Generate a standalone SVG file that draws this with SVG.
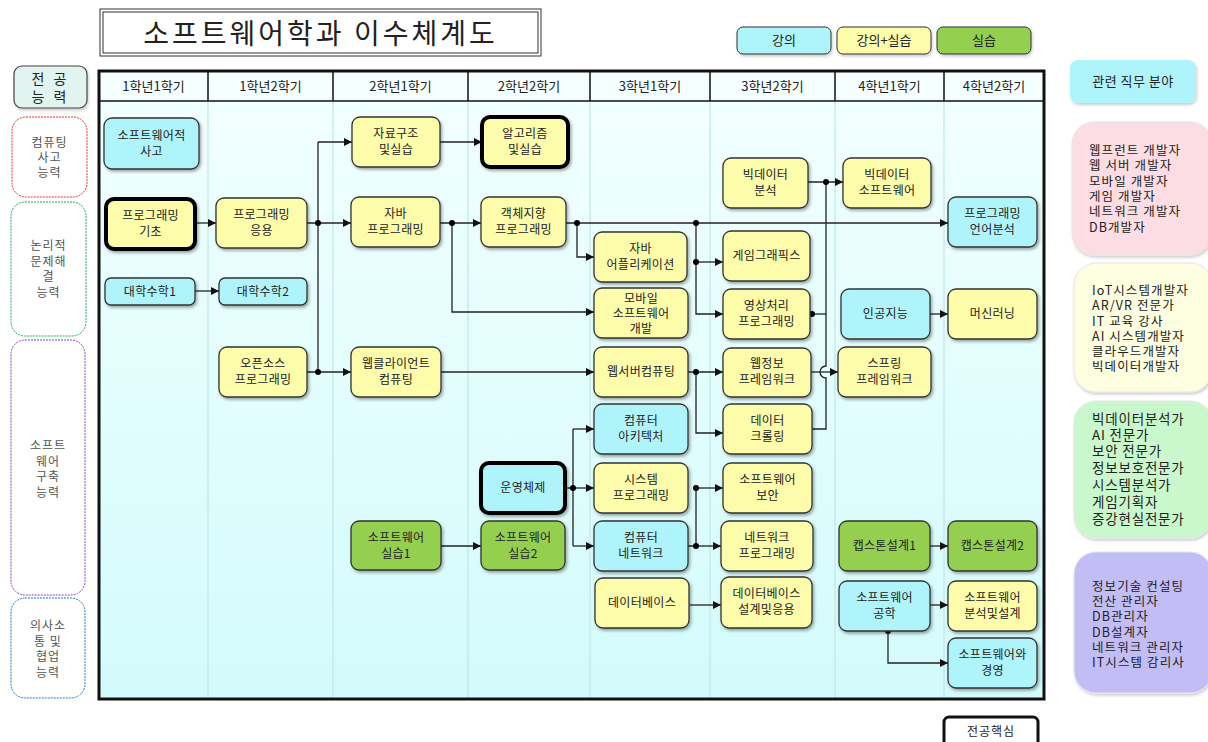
<svg xmlns="http://www.w3.org/2000/svg" width="1208" height="742" viewBox="0 0 1208 742">
<defs>
<linearGradient id="body" x1="0" y1="0" x2="0" y2="1">
<stop offset="0" stop-color="#f3ffff"/>
<stop offset="1" stop-color="#d3fbfb"/>
</linearGradient>
<filter id="sh" x="-10%" y="-10%" width="130%" height="140%">
<feDropShadow dx="1.5" dy="2" stdDeviation="1.4" flood-color="#000" flood-opacity="0.35"/>
</filter>
<filter id="sh2" x="-10%" y="-10%" width="130%" height="130%">
<feDropShadow dx="1" dy="2" stdDeviation="1.5" flood-color="#000" flood-opacity="0.2"/>
</filter>
<marker id="ar" viewBox="0 0 10 10" refX="10" refY="5" markerWidth="9" markerHeight="8" markerUnits="userSpaceOnUse" orient="auto">
<path d="M0,0 L10,5 L0,10 z" fill="#111"/>
</marker>
</defs>
<style>
text{font-family:"Noto Sans CJK KR","Noto Sans",sans-serif;fill:#222;}
.nt{font-size:12px;text-anchor:middle;letter-spacing:0.3px;}
.hd{font-size:13px;text-anchor:middle;}
.lb{font-size:12px;text-anchor:middle;fill:#555;letter-spacing:1px;}
.job{font-size:12.5px;letter-spacing:1.1px;}
.jobg{font-size:13.5px;letter-spacing:0.8px;}
.n{stroke:#333;stroke-width:1.3;filter:url(#sh);}
.c{fill:#b0f4fb;}
.y{fill:#fdfcab;}
.g{fill:#94cf50;}
.core{stroke:#000;stroke-width:4;}
.cn{fill:none;stroke:#222;stroke-width:1.3;}
.ar{marker-end:url(#ar);}
.dot{fill:#000;}
.vd{stroke:#bfe6ea;stroke-width:1.2;}
.hdv{stroke:#111;stroke-width:1.5;}
</style>

<!-- title -->
<g id="title">
<rect x="100" y="9" width="441" height="47" fill="#fff" stroke="#333" stroke-width="1"/>
<rect x="103" y="12" width="435" height="41" fill="#fff" stroke="#333" stroke-width="1"/>
<text x="320.5" y="44" style="font-size:28px;text-anchor:middle;letter-spacing:3px;">소프트웨어학과 이수체계도</text>
</g>

<!-- legend -->
<g id="legend">
<rect x="737" y="27" width="94" height="27" rx="6" class="c" stroke="#333" stroke-width="1" filter="url(#sh2)"/>
<text x="784" y="45" class="hd">강의</text>
<rect x="837" y="27" width="94" height="27" rx="6" class="y" stroke="#333" stroke-width="1" filter="url(#sh2)"/>
<text x="884" y="45" class="hd">강의+실습</text>
<rect x="937" y="27" width="94" height="27" rx="6" class="g" stroke="#333" stroke-width="1" filter="url(#sh2)"/>
<text x="984" y="45" class="hd">실습</text>
</g>

<!-- capability column -->
<g id="cap-head">
<rect x="14" y="66" width="73" height="42" rx="8" fill="#e2f4f0" stroke="#444" stroke-width="1.2" filter="url(#sh2)"/>
<text x="50.5" y="84" style="font-size:14px;text-anchor:middle;letter-spacing:3px;">전 공</text>
<text x="50.5" y="102" style="font-size:14px;text-anchor:middle;letter-spacing:3px;">능 력</text>
</g>
<g id="cap1">
<rect x="12" y="117" width="75" height="80" rx="14" fill="#fff" stroke="#e33" stroke-width="1" stroke-dasharray="2 1"/>
<text x="49.5" y="147" class="lb">컴퓨팅</text>
<text x="49.5" y="162" class="lb">사고</text>
<text x="49.5" y="177" class="lb">능력</text>
</g>
<g id="cap2">
<rect x="11" y="202" width="75" height="134" rx="14" fill="#fff" stroke="#2a6" stroke-width="1" stroke-dasharray="2 1"/>
<text x="48.5" y="250" class="lb">논리적</text>
<text x="48.5" y="266" class="lb">문제해</text>
<text x="48.5" y="281" class="lb">결</text>
<text x="48.5" y="297" class="lb">능력</text>
</g>
<g id="cap3">
<rect x="11" y="340" width="74" height="255" rx="14" fill="#fff" stroke="#84c" stroke-width="1" stroke-dasharray="2 1"/>
<text x="48" y="450" class="lb">소프트</text>
<text x="48" y="466" class="lb">웨어</text>
<text x="48" y="481" class="lb">구축</text>
<text x="48" y="497" class="lb">능력</text>
</g>
<g id="cap4">
<rect x="11" y="598" width="74" height="100" rx="14" fill="#fff" stroke="#27c" stroke-width="1" stroke-dasharray="2 1"/>
<text x="48" y="630" class="lb">의사소</text>
<text x="48" y="646" class="lb">통 및</text>
<text x="48" y="661" class="lb">협업</text>
<text x="48" y="677" class="lb">능력</text>
</g>

<!-- table -->
<g id="table">
<rect x="99" y="71" width="945" height="628" fill="url(#body)"/>
<rect x="99" y="71" width="945" height="30" fill="#f6ffff"/>
<line x1="99" y1="101" x2="1044" y2="101" class="hdv"/>
<g class="vd">
<line x1="208" y1="102" x2="208" y2="698"/>
<line x1="333" y1="102" x2="333" y2="698"/>
<line x1="468" y1="102" x2="468" y2="698"/>
<line x1="590" y1="102" x2="590" y2="698"/>
<line x1="710" y1="102" x2="710" y2="698"/>
<line x1="835" y1="102" x2="835" y2="698"/>
<line x1="944" y1="102" x2="944" y2="698"/>
</g>
<g class="hdv">
<line x1="208" y1="71" x2="208" y2="101"/>
<line x1="333" y1="71" x2="333" y2="101"/>
<line x1="468" y1="71" x2="468" y2="101"/>
<line x1="590" y1="71" x2="590" y2="101"/>
<line x1="710" y1="71" x2="710" y2="101"/>
<line x1="835" y1="71" x2="835" y2="101"/>
<line x1="944" y1="71" x2="944" y2="101"/>
</g>
<rect x="99" y="71" width="945" height="628" fill="none" stroke="#111" stroke-width="3"/>
<text x="153.5" y="91" class="hd">1학년1학기</text>
<text x="270.5" y="91" class="hd">1학년2학기</text>
<text x="400.5" y="91" class="hd">2학년1학기</text>
<text x="529" y="91" class="hd">2학년2학기</text>
<text x="650" y="91" class="hd">3학년1학기</text>
<text x="772.5" y="91" class="hd">3학년2학기</text>
<text x="889.5" y="91" class="hd">4학년1학기</text>
<text x="994" y="91" class="hd">4학년2학기</text>
</g>

<!-- connectors -->
<g id="connectors">
<path class="cn ar" d="M195,223 H216"/>
<path class="cn ar" d="M195,291 H219"/>
<path class="cn" d="M307,223 H318 M307,372 H318 M318,142 V372"/>
<path class="cn ar" d="M318,142 H352"/>
<path class="cn ar" d="M318,223 H351"/>
<path class="cn ar" d="M318,372 H351"/>
<path class="cn ar" d="M440,142 H482"/>
<path class="cn ar" d="M440,223 H481"/>
<path class="cn ar" d="M452,223 V312 H594"/>
<path class="cn ar" d="M441,372 H594"/>
<path class="cn ar" d="M441,546 H481"/>
<path class="cn ar" d="M566,223 H948"/>
<path class="cn ar" d="M577,223 V257 H594"/>
<path class="cn ar" d="M696,223 V314 H723"/>
<path class="cn ar" d="M696,262 H723"/>
<path class="cn ar" d="M688,372 H723"/>
<path class="cn ar" d="M696,372 V433 H723"/>
<path class="cn" d="M565,488 H573 M573,429 V546"/>
<path class="cn ar" d="M573,429 H594"/>
<path class="cn ar" d="M573,488 H594"/>
<path class="cn ar" d="M573,546 H594"/>
<path class="cn" d="M688,546 H696 M696,488 V546"/>
<path class="cn ar" d="M696,488 H723"/>
<path class="cn ar" d="M696,546 H721"/>
<path class="cn ar" d="M690,605 H721"/>
<path class="cn ar" d="M808,182 H843"/>
<path class="cn" d="M826,182 V366 A6,6 0 0 0 826,378 V429 H812"/>
<path class="cn" d="M812,314 H826"/>
<path class="cn ar" d="M811,372 H838"/>
<path class="cn ar" d="M930,314 H948"/>
<path class="cn ar" d="M930,546 H948"/>
<path class="cn ar" d="M930,605 H948"/>
<path class="cn ar" d="M888,631 V663 H948"/>
<g class="dot">
<circle cx="318" cy="223" r="3"/>
<circle cx="318" cy="372" r="3"/>
<circle cx="452" cy="223" r="3"/>
<circle cx="577" cy="223" r="3"/>
<circle cx="696" cy="223" r="3"/>
<circle cx="696" cy="262" r="3"/>
<circle cx="696" cy="372" r="3"/>
<circle cx="573" cy="488" r="3"/>
<circle cx="696" cy="488" r="3"/>
<circle cx="696" cy="546" r="3"/>
<circle cx="826" cy="182" r="3"/>
<circle cx="812" cy="314" r="3"/>
<circle cx="888" cy="631" r="3"/>
</g>
</g>

<!-- nodes -->
<g id="n-swthink"><rect class="n c" x="104" y="118" width="95" height="51" rx="8"/><text class="nt" x="151.5" y="140">소프트웨어적</text><text class="nt" x="151.5" y="156">사고</text></g>
<g id="n-progbasic"><rect class="n y core" x="106" y="199" width="89" height="50" rx="8"/><text class="nt" x="150.5" y="220">프로그래밍</text><text class="nt" x="150.5" y="236">기초</text></g>
<g id="n-math1"><rect class="n c" x="105" y="278" width="90" height="27" rx="6"/><text class="nt" x="150" y="296">대학수학1</text></g>
<g id="n-progapp"><rect class="n y" x="216" y="198" width="91" height="50" rx="8"/><text class="nt" x="261.5" y="219">프로그래밍</text><text class="nt" x="261.5" y="235">응용</text></g>
<g id="n-math2"><rect class="n c" x="219" y="278" width="88" height="27" rx="6"/><text class="nt" x="263" y="296">대학수학2</text></g>
<g id="n-opensrc"><rect class="n y" x="219" y="347" width="88" height="50" rx="8"/><text class="nt" x="263" y="368">오픈소스</text><text class="nt" x="263" y="384">프로그래밍</text></g>
<g id="n-ds"><rect class="n y" x="352" y="117" width="88" height="50" rx="8"/><text class="nt" x="396" y="138">자료구조</text><text class="nt" x="396" y="154">및실습</text></g>
<g id="n-java"><rect class="n y" x="351" y="197" width="89" height="50" rx="8"/><text class="nt" x="395.5" y="218">자바</text><text class="nt" x="395.5" y="234">프로그래밍</text></g>
<g id="n-webclient"><rect class="n y" x="351" y="347" width="90" height="50" rx="8"/><text class="nt" x="396" y="368">웹클라이언트</text><text class="nt" x="396" y="384">컴퓨팅</text></g>
<g id="n-swlab1"><rect class="n g" x="351" y="521" width="90" height="49" rx="8"/><text class="nt" x="396" y="542">소프트웨어</text><text class="nt" x="396" y="558">실습1</text></g>
<g id="n-algo"><rect class="n y core" x="482" y="117" width="86" height="50" rx="8"/><text class="nt" x="525" y="138">알고리즘</text><text class="nt" x="525" y="154">및실습</text></g>
<g id="n-oop"><rect class="n y" x="481" y="197" width="85" height="50" rx="8"/><text class="nt" x="523.5" y="218">객체지향</text><text class="nt" x="523.5" y="234">프로그래밍</text></g>
<g id="n-os"><rect class="n c core" x="481" y="463" width="84" height="50" rx="8"/><text class="nt" x="523" y="492">운영체제</text></g>
<g id="n-swlab2"><rect class="n g" x="481" y="521" width="84" height="49" rx="8"/><text class="nt" x="523" y="542">소프트웨어</text><text class="nt" x="523" y="558">실습2</text></g>
<g id="n-javaapp"><rect class="n y" x="594" y="232" width="93" height="50" rx="8"/><text class="nt" x="640.5" y="253">자바</text><text class="nt" x="640.5" y="269">어플리케이션</text></g>
<g id="n-mobile"><rect class="n y" x="594" y="288" width="94" height="50" rx="8"/><text class="nt" x="641" y="303">모바일</text><text class="nt" x="641" y="318">소프트웨어</text><text class="nt" x="641" y="333">개발</text></g>
<g id="n-webserver"><rect class="n y" x="594" y="347" width="94" height="50" rx="8"/><text class="nt" x="641" y="376">웹서버컴퓨팅</text></g>
<g id="n-arch"><rect class="n c" x="594" y="404" width="94" height="50" rx="8"/><text class="nt" x="641" y="425">컴퓨터</text><text class="nt" x="641" y="441">아키텍처</text></g>
<g id="n-sysprog"><rect class="n y" x="594" y="463" width="94" height="50" rx="8"/><text class="nt" x="641" y="484">시스템</text><text class="nt" x="641" y="500">프로그래밍</text></g>
<g id="n-network"><rect class="n c" x="594" y="521" width="94" height="50" rx="8"/><text class="nt" x="641" y="542">컴퓨터</text><text class="nt" x="641" y="558">네트워크</text></g>
<g id="n-db"><rect class="n y" x="595" y="578" width="94" height="50" rx="8"/><text class="nt" x="642" y="607">데이터베이스</text></g>
<g id="n-bigdata"><rect class="n y" x="723" y="158" width="85" height="50" rx="8"/><text class="nt" x="765.5" y="179">빅데이터</text><text class="nt" x="765.5" y="195">분석</text></g>
<g id="n-game"><rect class="n y" x="723" y="231" width="87" height="50" rx="8"/><text class="nt" x="766.5" y="260">게임그래픽스</text></g>
<g id="n-image"><rect class="n y" x="723" y="289" width="87" height="50" rx="8"/><text class="nt" x="766.5" y="310">영상처리</text><text class="nt" x="766.5" y="326">프로그래밍</text></g>
<g id="n-webfw"><rect class="n y" x="723" y="348" width="88" height="49" rx="8"/><text class="nt" x="767" y="368">웹정보</text><text class="nt" x="767" y="384">프레임워크</text></g>
<g id="n-crawl"><rect class="n y" x="723" y="404" width="89" height="50" rx="8"/><text class="nt" x="767.5" y="425">데이터</text><text class="nt" x="767.5" y="441">크롤링</text></g>
<g id="n-security"><rect class="n y" x="723" y="463" width="89" height="50" rx="8"/><text class="nt" x="767.5" y="484">소프트웨어</text><text class="nt" x="767.5" y="500">보안</text></g>
<g id="n-netprog"><rect class="n y" x="721" y="521" width="92" height="50" rx="8"/><text class="nt" x="767" y="542">네트워크</text><text class="nt" x="767" y="558">프로그래밍</text></g>
<g id="n-dbdesign"><rect class="n y" x="721" y="577" width="91" height="51" rx="8"/><text class="nt" x="766.5" y="598">데이터베이스</text><text class="nt" x="766.5" y="614">설계및응용</text></g>
<g id="n-bigsw"><rect class="n y" x="843" y="158" width="88" height="50" rx="8"/><text class="nt" x="887" y="179">빅데이터</text><text class="nt" x="887" y="195">소프트웨어</text></g>
<g id="n-ai"><rect class="n c" x="841" y="289" width="89" height="50" rx="8"/><text class="nt" x="885.5" y="318">인공지능</text></g>
<g id="n-spring"><rect class="n y" x="838" y="347" width="93" height="50" rx="8"/><text class="nt" x="884.5" y="368">스프링</text><text class="nt" x="884.5" y="384">프레임워크</text></g>
<g id="n-cap1"><rect class="n g" x="839" y="521" width="91" height="50" rx="8"/><text class="nt" x="884.5" y="550">캡스톤설계1</text></g>
<g id="n-sweng"><rect class="n c" x="839" y="581" width="91" height="50" rx="8"/><text class="nt" x="884.5" y="602">소프트웨어</text><text class="nt" x="884.5" y="618">공학</text></g>
<g id="n-langanal"><rect class="n c" x="948" y="197" width="89" height="50" rx="8"/><text class="nt" x="992.5" y="218">프로그래밍</text><text class="nt" x="992.5" y="234">언어분석</text></g>
<g id="n-ml"><rect class="n y" x="948" y="289" width="89" height="50" rx="8"/><text class="nt" x="992.5" y="318">머신러닝</text></g>
<g id="n-cap2"><rect class="n g" x="948" y="521" width="89" height="50" rx="8"/><text class="nt" x="992.5" y="550">캡스톤설계2</text></g>
<g id="n-swdesign"><rect class="n y" x="948" y="581" width="89" height="50" rx="8"/><text class="nt" x="992.5" y="602">소프트웨어</text><text class="nt" x="992.5" y="618">분석및설계</text></g>
<g id="n-swmgmt"><rect class="n c" x="948" y="638" width="89" height="50" rx="8"/><text class="nt" x="992.5" y="659">소프트웨어와</text><text class="nt" x="992.5" y="675">경영</text></g>

<!-- core legend -->
<g id="core-legend">
<rect x="944" y="717" width="94" height="34" rx="5" fill="#fff" stroke="#111" stroke-width="3"/>
<text x="991" y="736" style="font-size:12px;text-anchor:middle;letter-spacing:1px;">전공핵심</text>
</g>

<!-- jobs -->
<g id="job-head">
<rect x="1070" y="60" width="126" height="43" rx="8" fill="#b0f4fb" filter="url(#sh2)"/>
<text x="1133" y="86" style="font-size:13px;text-anchor:middle;letter-spacing:0.5px;">관련 직무 분야</text>
</g>
<g id="job1">
<rect x="1072" y="122" width="140" height="133" rx="22" fill="#fcdde3" stroke="#e6e6e6" stroke-width="1" filter="url(#sh2)"/>
<text class="job" x="1089" y="155">웹프런트 개발자</text>
<text class="job" x="1089" y="170">웹 서버 개발자</text>
<text class="job" x="1089" y="186">모바일 개발자</text>
<text class="job" x="1089" y="201">게임 개발자</text>
<text class="job" x="1089" y="216">네트워크 개발자</text>
<text class="job" x="1089" y="232">DB개발자</text>
</g>
<g id="job2">
<rect x="1074" y="263" width="138" height="129" rx="22" fill="#fefee0" stroke="#e6e6e6" stroke-width="1" filter="url(#sh2)"/>
<text class="job" x="1092" y="295">IoT시스템개발자</text>
<text class="job" x="1092" y="310">AR/VR 전문가</text>
<text class="job" x="1092" y="326">IT 교육 강사</text>
<text class="job" x="1092" y="341">AI 시스템개발자</text>
<text class="job" x="1092" y="356">클라우드개발자</text>
<text class="job" x="1092" y="371">빅데이터개발자</text>
</g>
<g id="job3">
<rect x="1074" y="401" width="138" height="137" rx="22" fill="#c8f8cc" stroke="#e6e6e6" stroke-width="1" filter="url(#sh2)"/>
<text class="jobg" x="1092" y="424">빅데이터분석가</text>
<text class="jobg" x="1092" y="440">AI 전문가</text>
<text class="jobg" x="1092" y="456">보안 전문가</text>
<text class="jobg" x="1092" y="473">정보보호전문가</text>
<text class="jobg" x="1092" y="490">시스템분석가</text>
<text class="jobg" x="1092" y="507">게임기획자</text>
<text class="jobg" x="1092" y="524">증강현실전문가</text>
</g>
<g id="job4">
<rect x="1074" y="552" width="138" height="141" rx="22" fill="#c3bdf5" stroke="#e6e6e6" stroke-width="1" filter="url(#sh2)"/>
<text class="job" x="1092" y="591">정보기술 컨설팅</text>
<text class="job" x="1092" y="606">전산 관리자</text>
<text class="job" x="1092" y="621">DB관리자</text>
<text class="job" x="1092" y="637">DB설계자</text>
<text class="job" x="1092" y="652">네트워크 관리자</text>
<text class="job" x="1092" y="667">IT시스템 감리사</text>
</g>
</svg>
